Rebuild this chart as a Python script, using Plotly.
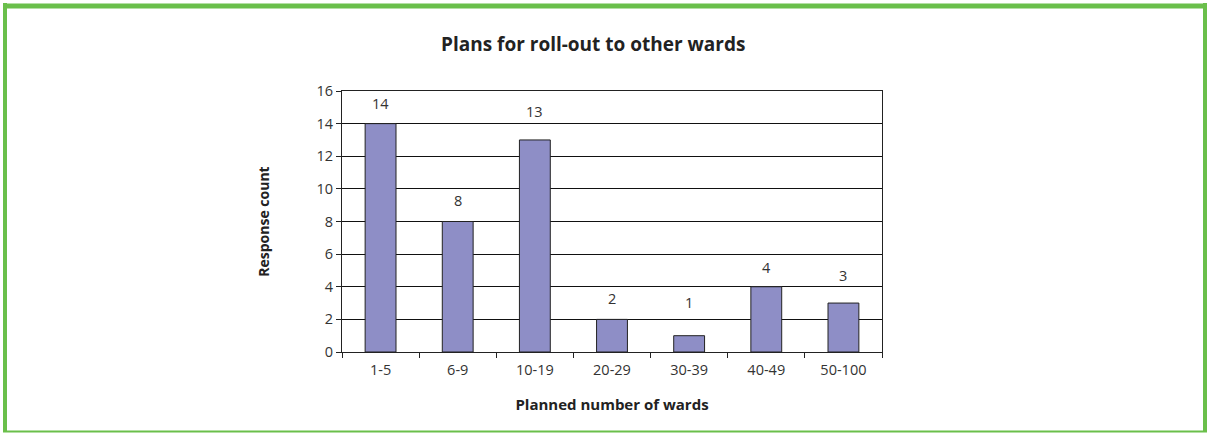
import plotly.graph_objects as go

categories = ["1-5", "6-9", "10-19", "20-29", "30-39", "40-49", "50-100"]
counts = [14, 8, 13, 2, 1, 4, 3]
y_ticks = [0, 2, 4, 6, 8, 10, 12, 14, 16]

W, H = 1208, 433
L, R, T, B = 342, 882, 91, 352
FONT = "Open Sans, Noto Sans, sans-serif"
TXT = "#333333"
FS = 14.5
# pixel lift of each value label above its bar (labels were nudged in the original)
LABEL_LIFT = [9, 10, 17, 9, 22, 8, 16]

fig = go.Figure()
fig.add_trace(go.Bar(
    x=categories, y=counts,
    marker=dict(color="#8e8ec6", line=dict(color="#222222", width=1)),
    width=0.4,
    hoverinfo="x+y",
))

for c, v, lift in zip(categories, counts, LABEL_LIFT):
    fig.add_annotation(x=c, y=v, text=str(v), showarrow=False,
                       yanchor="bottom", yshift=lift,
                       font=dict(family=FONT, size=FS, color=TXT))

def px_x(p):
    return (p - L) / (R - L)

def px_y(p):
    return (B - p) / (B - T)

green = "#6abf4b"
# frame around the figure
fig.add_shape(type="line", xref="paper", yref="paper",
              x0=px_x(5), x1=px_x(5), y0=px_y(3), y1=px_y(432),
              line=dict(color=green, width=4))
fig.add_shape(type="line", xref="paper", yref="paper",
              x0=px_x(3), x1=px_x(1207), y0=px_y(6), y1=px_y(6),
              line=dict(color=green, width=5))
fig.add_shape(type="line", xref="paper", yref="paper",
              x0=px_x(1205), x1=px_x(1205), y0=px_y(3), y1=px_y(432),
              line=dict(color=green, width=4))
fig.add_shape(type="line", xref="paper", yref="paper",
              x0=px_x(3), x1=px_x(1207), y0=px_y(431.5), y1=px_y(431.5),
              line=dict(color=green, width=2))

fig.add_annotation(xref="paper", yref="paper", x=px_x(593), y=px_y(44),
                   text="<b>Plans for roll-out to other wards</b>", showarrow=False,
                   xanchor="center", yanchor="middle",
                   font=dict(family=FONT, size=19, color="#222222"))

fig.update_layout(
    width=W, height=H,
    margin=dict(l=L, r=W - R, t=T, b=H - B, pad=0),
    paper_bgcolor="white", plot_bgcolor="white",
    showlegend=False,
    font=dict(family=FONT, size=FS, color=TXT),
    xaxis=dict(
        type="category",
        showline=True, linecolor="#222222", linewidth=1, mirror=True,
        ticks="outside", tickson="boundaries", ticklen=5, tickcolor="#222222",
        ticklabelstandoff=5,
        showgrid=False,
        tickfont=dict(family=FONT, size=FS, color=TXT),
        title=dict(text="<b>Planned number of wards</b>", standoff=21,
                   font=dict(family=FONT, size=15, color="#222222")),
    ),
    yaxis=dict(
        range=[0, 16], tickvals=y_ticks,
        showline=True, linecolor="#222222", linewidth=1, mirror=True,
        ticks="outside", ticklen=5, tickcolor="#222222",
        showgrid=True, gridcolor="#111111", gridwidth=1,
        zeroline=False,
        tickfont=dict(family=FONT, size=FS, color=TXT),
        title=dict(text="<b>Response count</b>", standoff=43,
                   font=dict(family=FONT, size=14, color="#222222")),
    ),
)

fig.write_html("out.html", config={"displayModeBar": False},
               post_script="document.body.style.margin='0';")
